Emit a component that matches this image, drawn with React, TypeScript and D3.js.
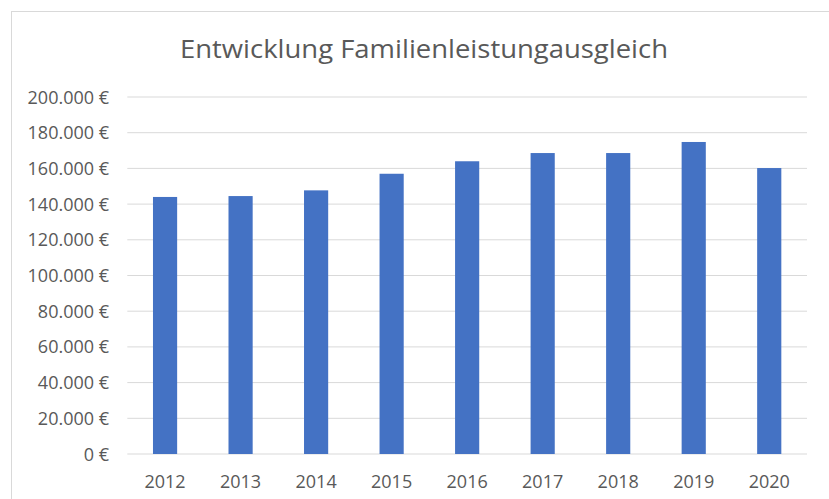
import React from "react";
import * as d3 from "d3";

const years: string[] = ["2012", "2013", "2014", "2015", "2016", "2017", "2018", "2019", "2020"];
const values: number[] = [144000, 144500, 147700, 157000, 164000, 168600, 168600, 174800, 160200];
const yTicks: number[] = [0, 20000, 40000, 60000, 80000, 100000, 120000, 140000, 160000, 180000, 200000];
const title = "Entwicklung Familienleistungausgleich";

const W = 829;
const H = 499;
const font = "'Open Sans', 'Noto Sans', sans-serif";
const textColor = "#595959";

export default function App() {
  const x = d3.scaleBand<string>().domain(years).range([127.3, 807]).paddingInner(0.68).paddingOuter(0.34);
  const y = d3.scaleLinear().domain([0, 200000]).range([454, 97]);
  const fmt = (v: number) => d3.formatLocale({ decimal: ",", thousands: ".", grouping: [3], currency: ["", " €"] }).format(",.0f")(v) + "\u00a0€";

  return (
    <div style={{ position: "fixed", left: 0, top: 0, width: W, height: H, background: "#fff" }}>
      <svg width={W} height={H} style={{ display: "block" }}>
        <rect x={0} y={0} width={W} height={H} fill="#fff" />
        <rect x={11.5} y={11.5} width={W + 20} height={H + 20} fill="#fff" stroke="#d9d9d9" strokeWidth={1} />
        <text
          x={424}
          y={58}
          textAnchor="middle"
          fontFamily={font}
          fontSize={25}
          fill={textColor}
          textLength={488}
          lengthAdjust="spacingAndGlyphs"
        >
          {title}
        </text>
        {yTicks.map((t) => (
          <g key={t}>
            <line x1={127.3} x2={807} y1={y(t)} y2={y(t)} stroke="#d9d9d9" strokeWidth={1} />
            <text x={109} y={y(t) + 6.5} textAnchor="end" fontFamily={font} fontSize={18} fill={textColor}>
              {fmt(t)}
            </text>
          </g>
        ))}
        {years.map((yr, i) => (
          <rect
            key={yr}
            x={x(yr)!}
            y={y(values[i])}
            width={x.bandwidth()}
            height={y(0) - y(values[i])}
            fill="#4472C4"
          />
        ))}
        {years.map((yr) => (
          <text
            key={"l" + yr}
            x={x(yr)! + x.bandwidth() / 2}
            y={488}
            textAnchor="middle"
            fontFamily={font}
            fontSize={18}
            fill={textColor}
          >
            {yr}
          </text>
        ))}
      </svg>
    </div>
  );
}
